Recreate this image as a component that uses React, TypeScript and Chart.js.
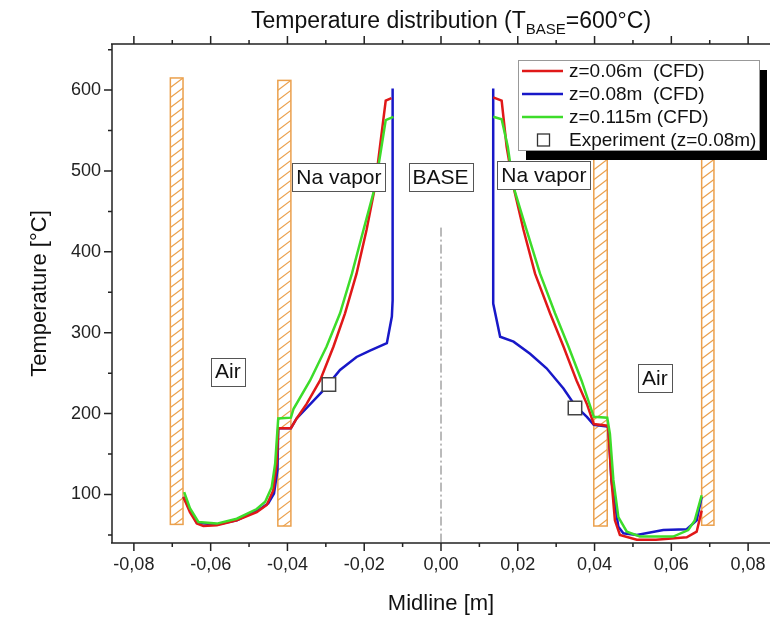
import React, { useEffect, useRef } from 'react';
import { Chart, registerables } from 'chart.js';

Chart.register(...registerables);

// ---- axis ticks ----
const X_TICKS = [-0.08, -0.06, -0.04, -0.02, 0, 0.02, 0.04, 0.06, 0.08];
const X_MINOR = [-0.07, -0.05, -0.03, -0.01, 0.01, 0.03, 0.05, 0.07];
const Y_TICKS = [100, 200, 300, 400, 500, 600];
const Y_MINOR = [50, 150, 250, 350, 450, 550, 650];
const X_MIN = -0.0857;
const X_MAX = 0.0857;
const Y_MIN = 40;
const Y_MAX = 657;

// ---- series (left branch, gap, right branch) ----
const RED_X = [
  -0.0671, -0.0654, -0.0636, -0.0619, -0.0584, -0.0532, -0.048, -0.0454, -0.0437, -0.0428, -0.0424, -0.0391,
  -0.0376, -0.035, -0.0315, -0.028, -0.025, -0.022, -0.0194, -0.0172, -0.0159, -0.0144, -0.0129,
  null,
  0.0136, 0.0158, 0.0171, 0.0189, 0.0215, 0.0245, 0.0284, 0.0319, 0.0353, 0.038, 0.0398, 0.0433,
  0.0436, 0.0444, 0.0453, 0.0466, 0.051, 0.056, 0.064, 0.0666, 0.0679,
];
const RED_Y = [
  97, 78, 64, 61, 62, 68, 78, 87, 105, 138, 182, 182,
  194, 212, 241, 283, 324, 373, 427, 480, 530, 587, 590,
  null,
  591, 587, 530, 480, 427, 373, 324, 283, 241, 212, 187, 185,
  181, 118, 68, 50, 44, 44, 47, 54, 80,
];

const BLUE_X = [
  -0.0671, -0.0636, -0.0584, -0.0532, -0.0471, -0.045, -0.0435, -0.0426, -0.0424, -0.0391,
  -0.0376, -0.0306, -0.0263, -0.022, -0.0185, -0.0141, -0.0128, -0.0126, -0.0126,
  null,
  0.0136, 0.0136, 0.0154, 0.0189, 0.0232, 0.0275, 0.0319, 0.0349, 0.038, 0.0398, 0.0433,
  0.0436, 0.0444, 0.0462, 0.0475, 0.051, 0.0579, 0.064, 0.0666, 0.0679,
];
const BLUE_Y = [
  97, 65, 63, 68, 82, 89, 101, 130, 182, 182,
  194, 229, 254, 270, 278, 287, 320, 340, 602,
  null,
  602, 336, 295, 289, 274, 256, 231, 210, 196, 186, 184,
  183, 117, 60, 52, 50, 56, 57, 68, 97,
];

const GREEN_X = [
  -0.0669, -0.0654, -0.0632, -0.0584, -0.0532, -0.048, -0.0458, -0.0441, -0.0432, -0.0424, -0.0391,
  -0.0384, -0.0341, -0.0298, -0.0263, -0.0232, -0.0202, -0.0172, -0.0155, -0.0144, -0.0124,
  null,
  0.0136, 0.0158, 0.0174, 0.0189, 0.0223, 0.0258, 0.0297, 0.0332, 0.0366, 0.0398, 0.0433,
  0.044, 0.0449, 0.0462, 0.0484, 0.0518, 0.0605, 0.0644, 0.0661, 0.0679,
];
const GREEN_Y = [
  103, 83, 66, 64, 70, 82, 91, 109, 138, 194, 195,
  206, 241, 283, 324, 373, 427, 480, 530, 563, 567,
  null,
  567, 564, 530, 480, 427, 373, 324, 283, 241, 196, 195,
  175, 118, 72, 54, 48, 48, 56, 68, 99,
];

const EXP_X = [-0.0292, 0.0349];
const EXP_Y = [236, 207];

const SERIES_LABELS = ['z=0.06m  (CFD)', 'z=0.08m  (CFD)', 'z=0.115m (CFD)', 'Experiment (z=0.08m)'];

// ---- hatched walls ----
const WALL_X0 = [-0.0705, -0.0425, 0.0398, 0.0679];
const WALL_X1 = [-0.0672, -0.0391, 0.0433, 0.0711];
const WALL_Y0 = [63, 61, 61, 62];
const WALL_Y1 = [615, 612, 613, 613];

// ---- text annotations ----
const NOTE_TEXT = ['Air', 'Na vapor', 'BASE', 'Na vapor', 'Air'];
const NOTE_X = [-0.0555, -0.0266, -0.0001, 0.0268, 0.0557];
const NOTE_Y = [252, 492, 492, 495, 244];

const MIDLINE_X = 0;
const MIDLINE_TOP = 430;

const RED = '#e01818';
const BLUE = '#1818c8';
const GREEN = '#3ddc2a';
const ORANGE = '#eba04c';
const FONT = '"Liberation Sans", Arial, Helvetica, sans-serif';

function pts(xs: (number | null)[], ys: (number | null)[]) {
  return xs.map((x, i) => ({ x: x as any, y: ys[i] as any }));
}

const decor = {
  id: 'decor',
  beforeDatasetsDraw(chart: any) {
    const ctx = chart.ctx as CanvasRenderingContext2D;
    const xs = chart.scales.x;
    const ys = chart.scales.y;
    const a = chart.chartArea;
    // walls
    for (let i = 0; i < WALL_X0.length; i++) {
      const x0 = xs.getPixelForValue(WALL_X0[i]);
      const x1 = xs.getPixelForValue(WALL_X1[i]);
      const y0 = ys.getPixelForValue(WALL_Y1[i]);
      const y1 = ys.getPixelForValue(WALL_Y0[i]);
      ctx.save();
      ctx.beginPath();
      ctx.rect(x0, y0, x1 - x0, y1 - y0);
      ctx.clip();
      ctx.strokeStyle = ORANGE;
      ctx.lineWidth = 1.2;
      const w = x1 - x0;
      for (let y = y0 - 20; y < y1 + 20; y += 10) {
        ctx.beginPath();
        ctx.moveTo(x0, y + w * 0.75);
        ctx.lineTo(x1, y);
        ctx.stroke();
      }
      ctx.restore();
      ctx.save();
      ctx.strokeStyle = ORANGE;
      ctx.lineWidth = 1.5;
      ctx.strokeRect(x0, y0, x1 - x0, y1 - y0);
      ctx.restore();
    }
    // midline
    const mx = xs.getPixelForValue(MIDLINE_X);
    ctx.save();
    ctx.strokeStyle = '#777';
    ctx.lineWidth = 1;
    ctx.setLineDash([9, 3, 2, 3]);
    ctx.beginPath();
    ctx.moveTo(mx, ys.getPixelForValue(MIDLINE_TOP));
    ctx.lineTo(mx, a.bottom);
    ctx.stroke();
    ctx.restore();
  },
  afterDatasetsDraw(chart: any) {
    const ctx = chart.ctx as CanvasRenderingContext2D;
    const xs = chart.scales.x;
    const ys = chart.scales.y;
    const a = chart.chartArea;
    // annotation boxes
    ctx.save();
    ctx.font = `21px ${FONT}`;
    ctx.textAlign = 'center';
    ctx.textBaseline = 'middle';
    for (let i = 0; i < NOTE_TEXT.length; i++) {
      const cx = xs.getPixelForValue(NOTE_X[i]);
      const cy = ys.getPixelForValue(NOTE_Y[i]);
      const w = ctx.measureText(NOTE_TEXT[i]).width + 8;
      const h = 28;
      ctx.fillStyle = '#fff';
      ctx.fillRect(cx - w / 2, cy - h / 2, w, h);
      ctx.strokeStyle = '#555';
      ctx.lineWidth = 1;
      ctx.strokeRect(Math.round(cx - w / 2) + 0.5, Math.round(cy - h / 2) + 0.5, Math.round(w), h);
      ctx.fillStyle = '#111';
      ctx.fillText(NOTE_TEXT[i], cx, cy + 1);
    }
    ctx.restore();

    // legend
    const lw = 241;
    const lh = 90;
    const lx = a.right - 252;
    const ly = a.top + 16;
    ctx.save();
    ctx.fillStyle = '#000';
    ctx.fillRect(lx + 8, ly + 10, lw, lh);
    ctx.fillStyle = '#fff';
    ctx.fillRect(lx, ly, lw, lh);
    ctx.strokeStyle = '#999';
    ctx.lineWidth = 1;
    ctx.strokeRect(lx + 0.5, ly + 0.5, lw, lh);
    ctx.font = `19px ${FONT}`;
    ctx.textBaseline = 'middle';
    ctx.textAlign = 'left';
    chart.data.datasets.forEach((ds: any, i: number) => {
      const ry = ly + 11 + i * 23;
      if (ds.showLine === false) {
        ctx.fillStyle = '#fff';
        ctx.strokeStyle = '#333';
        ctx.lineWidth = 1.3;
        ctx.strokeRect(lx + 19.5, ry - 6, 12, 12);
      } else {
        ctx.strokeStyle = ds.borderColor;
        ctx.lineWidth = 2.5;
        ctx.beginPath();
        ctx.moveTo(lx + 4, ry);
        ctx.lineTo(lx + 45, ry);
        ctx.stroke();
      }
      ctx.fillStyle = '#111';
      ctx.fillText(ds.label, lx + 51, ry + 1);
    });
    ctx.restore();
  },
  afterDraw(chart: any) {
    const ctx = chart.ctx as CanvasRenderingContext2D;
    const xs = chart.scales.x;
    const ys = chart.scales.y;
    const a = chart.chartArea;
    ctx.save();
    ctx.strokeStyle = '#222';
    ctx.lineWidth = 1.5;
    ctx.beginPath();
    ctx.moveTo(a.left, a.top);
    ctx.lineTo(a.left, a.bottom);
    ctx.moveTo(a.left - 1, a.bottom);
    ctx.lineTo(a.right, a.bottom);
    ctx.moveTo(a.left - 1, a.top);
    ctx.lineTo(a.right, a.top);
    ctx.stroke();
    ctx.beginPath();
    const tick = (vals: number[], len: number) => {
      for (const v of vals) {
        const px = xs.getPixelForValue(v);
        ctx.moveTo(px, a.bottom);
        ctx.lineTo(px, a.bottom + len);
        ctx.moveTo(px, a.top);
        ctx.lineTo(px, a.top - len);
      }
    };
    tick(X_TICKS, 8);
    tick(X_MINOR, 4);
    for (const v of Y_TICKS) {
      const py = ys.getPixelForValue(v);
      ctx.moveTo(a.left, py);
      ctx.lineTo(a.left - 8, py);
    }
    for (const v of Y_MINOR) {
      const py = ys.getPixelForValue(v);
      ctx.moveTo(a.left, py);
      ctx.lineTo(a.left - 4, py);
    }
    ctx.stroke();

    // title with subscript
    const p1 = 'Temperature distribution (T';
    const p2 = 'BASE';
    const p3 = '=600°C)';
    ctx.fillStyle = '#111';
    ctx.textBaseline = 'alphabetic';
    ctx.textAlign = 'left';
    ctx.font = `23px ${FONT}`;
    const w1 = ctx.measureText(p1).width;
    const w3 = ctx.measureText(p3).width;
    ctx.font = `15px ${FONT}`;
    const w2 = ctx.measureText(p2).width;
    const total = w1 + w2 + w3;
    let x = (a.left + a.right) / 2 + 10 - total / 2;
    const base = 28;
    ctx.font = `23px ${FONT}`;
    ctx.fillText(p1, x, base);
    x += w1;
    ctx.font = `15px ${FONT}`;
    ctx.fillText(p2, x, base + 6);
    x += w2;
    ctx.font = `23px ${FONT}`;
    ctx.fillText(p3, x, base);
    ctx.restore();
  },
};

export default function App() {
  const ref = useRef<HTMLCanvasElement>(null);
  useEffect(() => {
    const canvas = ref.current;
    if (!canvas) return;
    const lineDs = (label: string, xs: any[], ys: any[], color: string, order: number) => ({
      label,
      data: pts(xs, ys),
      borderColor: color,
      backgroundColor: color,
      borderWidth: 2.5,
      pointRadius: 0,
      tension: 0,
      spanGaps: false,
      fill: false,
      order,
    });
    const chart = new Chart(canvas, {
      type: 'line',
      data: {
        datasets: [
          lineDs(SERIES_LABELS[0], RED_X, RED_Y, RED, 2),
          lineDs(SERIES_LABELS[1], BLUE_X, BLUE_Y, BLUE, 3),
          lineDs(SERIES_LABELS[2], GREEN_X, GREEN_Y, GREEN, 1),
          {
            label: SERIES_LABELS[3],
            data: pts(EXP_X, EXP_Y),
            showLine: false,
            pointStyle: 'rect',
            pointRadius: 9.5,
            backgroundColor: '#fff',
            borderColor: '#444',
            borderWidth: 1.5,
            order: 0,
          } as any,
        ],
      },
      options: {
        responsive: false,
        animation: false,
        layout: { padding: { top: 44, right: 30, bottom: 0, left: 0 } },
        plugins: {
          legend: { display: false },
          tooltip: { enabled: false },
          title: { display: false },
        },
        scales: {
          x: {
            type: 'linear',
            min: X_MIN,
            max: X_MAX,
            afterBuildTicks: (s: any) => {
              s.ticks = X_TICKS.map((v) => ({ value: v }));
            },
            afterFit: (s: any) => {
              s.height = 74;
            },
            grid: { display: false, drawTicks: false },
            border: { display: false },
            ticks: {
              padding: 11,
              autoSkip: false,
              maxRotation: 0,
              color: '#222',
              font: { size: 18, family: FONT },
              callback: (v: any) => Number(v).toFixed(2).replace('.', ','),
            },
            title: {
              display: true,
              text: 'Midline [m]',
              color: '#111',
              font: { size: 22, family: FONT },
              padding: { top: 0, bottom: 0 },
            },
          },
          y: {
            type: 'linear',
            min: Y_MIN,
            max: Y_MAX,
            afterBuildTicks: (s: any) => {
              s.ticks = Y_TICKS.map((v) => ({ value: v }));
            },
            afterFit: (s: any) => {
              s.width = 112;
            },
            grid: { display: false, drawTicks: false },
            border: { display: false },
            ticks: {
              padding: 11,
              color: '#222',
              font: { size: 18, family: FONT },
            },
            title: {
              display: true,
              text: 'Temperature [°C]',
              color: '#111',
              font: { size: 22, family: FONT },
              padding: { top: 27, bottom: 0 },
            },
          },
        },
      },
      plugins: [decor],
    });
    return () => chart.destroy();
  }, []);
  return (
    <div
      style={{
        position: 'absolute',
        left: 0,
        top: 0,
        width: 770,
        height: 617,
        overflow: 'hidden',
        background: '#fff',
      }}
    >
      <canvas ref={ref} width={800} height={617} style={{ display: 'block' }} />
    </div>
  );
}
